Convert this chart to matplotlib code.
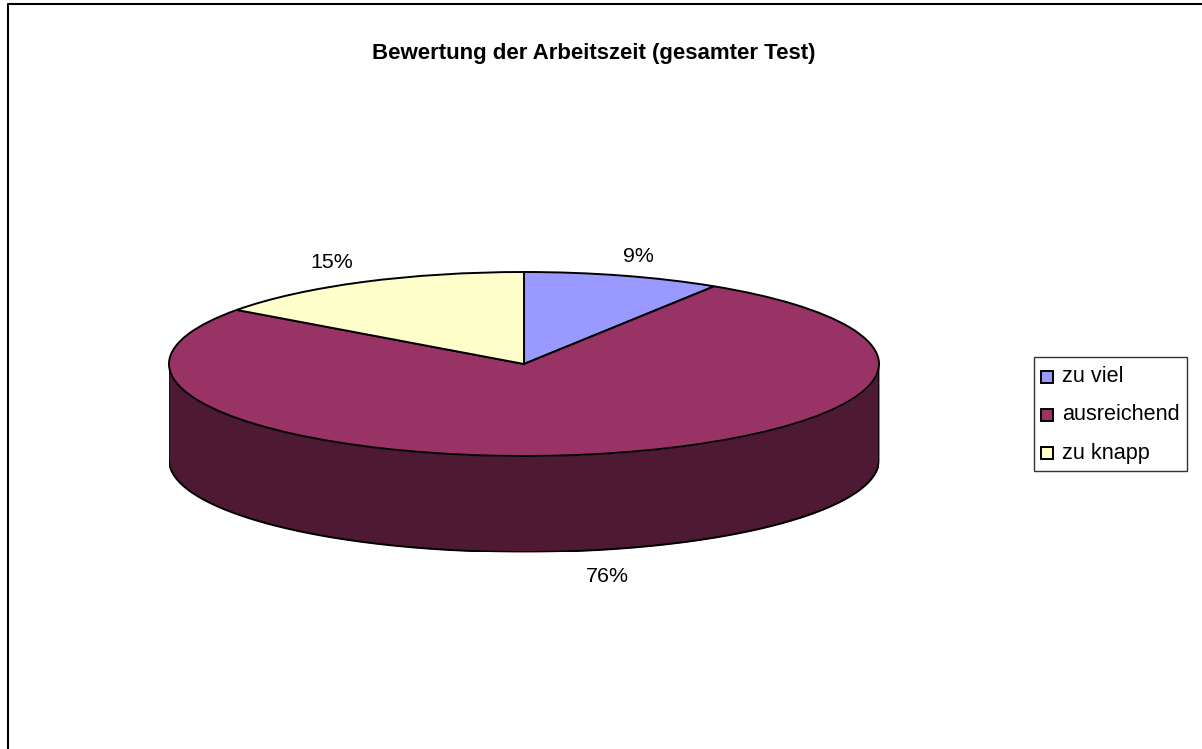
import numpy as np
import matplotlib
matplotlib.use("Agg")
import matplotlib.pyplot as plt
from matplotlib.patches import Rectangle

title = "Bewertung der Arbeitszeit (gesamter Test)"
categories = ["zu viel", "ausreichend", "zu knapp"]
values = [9, 76, 15]
labels = ["9%", "76%", "15%"]
colors = ["#9999FF", "#993366", "#FFFFCC"]
side_color = "#4D1933"

W, H = 1202, 749
plt.rcParams["font.family"] = ["Liberation Sans", "DejaVu Sans"]
fig = plt.figure(figsize=(W / 100, H / 100), dpi=100, facecolor="white")

bg = fig.add_axes([0, 0, 1, 1])
bg.set_xlim(0, W); bg.set_ylim(H, 0); bg.axis("off")
bg.plot([8, 8, W], [H, 4, 4], color="black", lw=1.5, solid_capstyle="butt")

cx, cy, rx, ry, depth = 524, 364, 355, 92, 96
ax = fig.add_axes([(cx - rx) / W, 1 - (cy + ry + depth) / H, 2 * rx / W, (2 * ry + depth) / H])
dz = depth / ry
ax.axis("off")

t = np.linspace(np.pi, 2 * np.pi, 240)
xs, ys = np.cos(t), np.sin(t)
ax.fill_between(xs, ys, ys - dz, color=side_color, lw=0, zorder=1)
ax.plot(xs, ys - dz, color="black", lw=1.4, zorder=2)
ax.plot([-1, -1], [0, -dz], color="black", lw=1.2, zorder=2)
ax.plot([1, 1], [0, -dz], color="black", lw=1.2, zorder=2)

wedges, _ = ax.pie(values, colors=colors, startangle=90, counterclock=False, radius=1,
                   wedgeprops=dict(edgecolor="black", linewidth=1.4, zorder=3), frame=False)
ax.set_aspect("auto")
ax.set_xlim(-1, 1)
ax.set_ylim(-1 - dz, 1)

for txt, (x, y) in zip(labels, [(638, 256), (607, 577), (332, 262)]):
    bg.text(x, y, txt, ha="center", va="center", fontsize=15.4, color="black", zorder=5)
bg.text(594, 53, title, ha="center", va="center", fontsize=16, fontweight="bold", color="black")

leg = Rectangle((1034, 357), 153, 114, facecolor="white", edgecolor="#333333", lw=1.0, zorder=6)
bg.add_patch(leg)
for name, col, y in zip(categories, colors, [377, 415, 453]):
    bg.add_patch(Rectangle((1041, y - 6), 12, 12, facecolor=col, edgecolor="black", lw=1.4, zorder=7))
    bg.text(1062, y, name, ha="left", va="center", fontsize=15.6, color="black", zorder=7)

fig.savefig("out.png", dpi=100)
